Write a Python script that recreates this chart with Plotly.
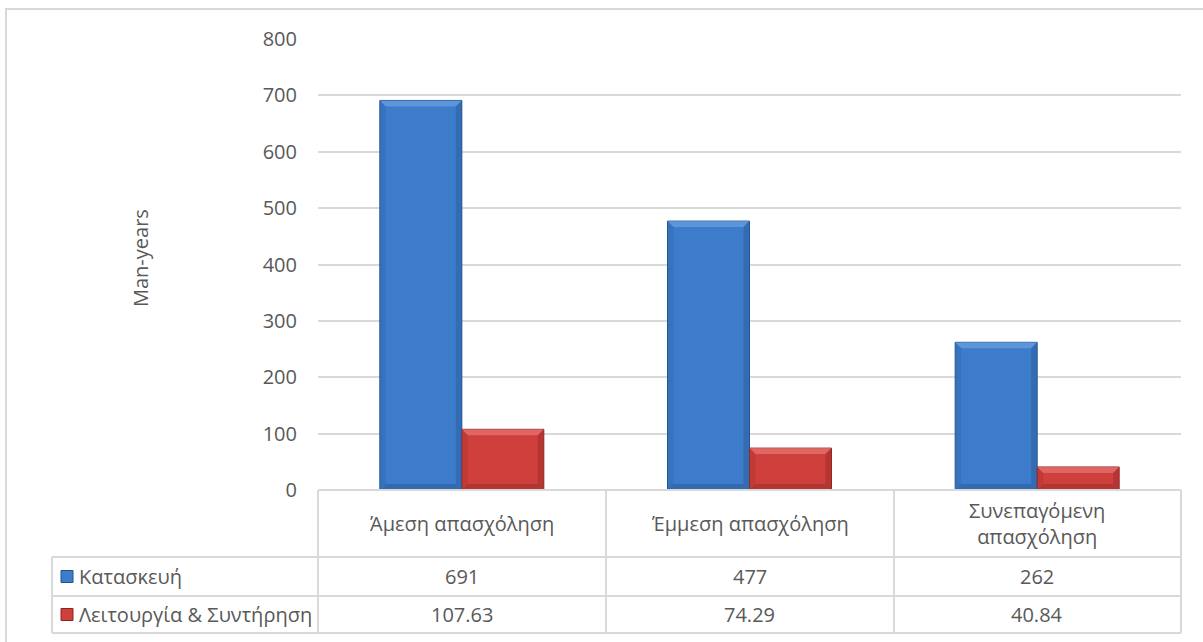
import plotly.graph_objects as go

# Chart data
categories = ["Άμεση απασχόληση", "Έμμεση απασχόληση", "Συνεπαγόμενη<br>απασχόληση"]
construction = [691, 477, 262]
operation = [107.63, 74.29, 40.84]
series_names = ["Κατασκευή", "Λειτουργία & Συντήρηση"]
y_ticks = [0, 100, 200, 300, 400, 500, 600, 700, 800]

W, H = 1203, 642
L, R, T, B = 318, 22, 39, 152
PW, PH = W - L - R, H - T - B

BLUE, BLUE_EDGE = "#3d7ccb", "#23528f"
RED, RED_EDGE = "#cf3f3c", "#8e2422"
GRID = "#d9d9d9"
TXT = "#595959"
FONT = "Open Sans"
FS = 20


def px(x):
    return (x - L) / PW


def py(y):
    return (H - B - y) / PH


xs = list(range(len(categories)))
bw = 0.285

fig = go.Figure()
fig.add_bar(x=xs, y=construction, name=series_names[0], width=bw, offset=-bw,
            marker=dict(color=BLUE, line=dict(color=BLUE_EDGE, width=1)))
fig.add_bar(x=xs, y=operation, name=series_names[1], width=bw, offset=0,
            marker=dict(color=RED, line=dict(color=RED_EDGE, width=1)))

shapes = []
# bevel highlight / shade strips on each bar
ux = 1.0 / (PW / len(categories))   # data units per pixel, x
uy = 800.0 / PH                      # data units per pixel, y
bev = 6
for vals, off, light, dark in [(construction, -bw, "#6aa0e0", "#2c5f9f"),
                               (operation, 0, "#e77775", "#a02e2b")]:
    for i, v in enumerate(vals):
        x0, x1 = i + off, i + off + bw
        dx, dy = bev * ux, min(bev * uy, v / 3)
        # top strip
        shapes.append(dict(type="path", xref="x", yref="y", line=dict(width=0),
                           fillcolor=light, opacity=0.7,
                           path=f"M{x0},{v} L{x1},{v} L{x1-dx},{v-dy} L{x0+dx},{v-dy} Z"))
        # right side
        shapes.append(dict(type="path", xref="x", yref="y", line=dict(width=0),
                           fillcolor=dark, opacity=0.55,
                           path=f"M{x1},{v} L{x1},0 L{x1-dx},{dy} L{x1-dx},{v-dy} Z"))
        # bottom strip
        shapes.append(dict(type="path", xref="x", yref="y", line=dict(width=0),
                           fillcolor=dark, opacity=0.6,
                           path=f"M{x0},0 L{x1},0 L{x1-dx},{dy} L{x0+dx},{dy} Z"))
        # left side
        shapes.append(dict(type="path", xref="x", yref="y", line=dict(width=0),
                           fillcolor=dark, opacity=0.3,
                           path=f"M{x0},{v} L{x0},0 L{x0+dx},{dy} L{x0+dx},{v-dy} Z"))

line = dict(color=GRID, width=2)
# outer chart frame
shapes.append(dict(type="rect", xref="paper", yref="paper", layer="below",
                   x0=px(6), x1=px(1215), y0=py(9), y1=py(660), line=line))
# data table grid
y_head, y_r1, y_r2, y_end = 490, 557, 596, 633
x_lab, x_c = 52, [318, 606, 894, 1181]
shapes.append(dict(type="line", xref="paper", yref="paper",
                   x0=px(x_c[0]), x1=px(x_c[-1]), y0=py(y_head), y1=py(y_head), line=line))
for yy in [y_r1, y_r2, y_end]:
    shapes.append(dict(type="line", xref="paper", yref="paper",
                       x0=px(x_lab), x1=px(x_c[-1]), y0=py(yy), y1=py(yy), line=line))
shapes.append(dict(type="line", xref="paper", yref="paper",
                   x0=px(x_lab), x1=px(x_lab), y0=py(y_r1), y1=py(y_end), line=line))
for xx in x_c:
    shapes.append(dict(type="line", xref="paper", yref="paper",
                       x0=px(xx), x1=px(xx), y0=py(y_head), y1=py(y_end), line=line))

ann = []
tf = dict(family=FONT, size=FS, color=TXT)
common = dict(showarrow=False, font=tf, xanchor="center", yanchor="middle")
for i, c in enumerate(categories):
    ann.append(dict(x=i, y=py((y_head + y_r1) / 2), xref="x", yref="paper",
                    text=c, align="center", **common))
    ann.append(dict(x=i, y=py((y_r1 + y_r2) / 2), xref="x", yref="paper",
                    text=f"{construction[i]:g}", **common))
    ann.append(dict(x=i, y=py((y_r2 + y_end) / 2), xref="x", yref="paper",
                    text=f"{operation[i]:g}", **common))
# legend keys inside the table's label column
for name, col, edge, yy in [(series_names[0], BLUE, BLUE_EDGE, (y_r1 + y_r2) / 2),
                            (series_names[1], RED, RED_EDGE, (y_r2 + y_end) / 2)]:
    shapes.append(dict(type="rect", xref="paper", yref="paper",
                       x0=px(61), x1=px(73), y0=py(yy - 6), y1=py(yy + 6),
                       fillcolor=col, line=dict(color=edge, width=1)))
    ann.append(dict(x=px(77), y=py(yy), xref="paper", yref="paper", xanchor="left",
                    yanchor="middle", showarrow=False, font=tf, text=name))
ann.append(dict(x=px(140), y=py(258), xref="paper", yref="paper", text="Man-years",
                textangle=-90, **common))

fig.update_layout(
    width=W, height=H, margin=dict(l=L, r=R, t=T, b=B),
    paper_bgcolor="white", plot_bgcolor="white",
    showlegend=False, barmode="overlay",
    xaxis=dict(range=[-0.5, len(categories) - 0.5], showticklabels=False,
               showgrid=False, zeroline=False, fixedrange=True),
    yaxis=dict(range=[0, 800], tickvals=y_ticks, showgrid=True, gridcolor=GRID,
               gridwidth=2, zeroline=False, ticks="", ticklabelstandoff=20,
               tickfont=dict(family=FONT, size=FS, color=TXT)),
    shapes=shapes, annotations=ann,
)

fig.write_html("out.html")
